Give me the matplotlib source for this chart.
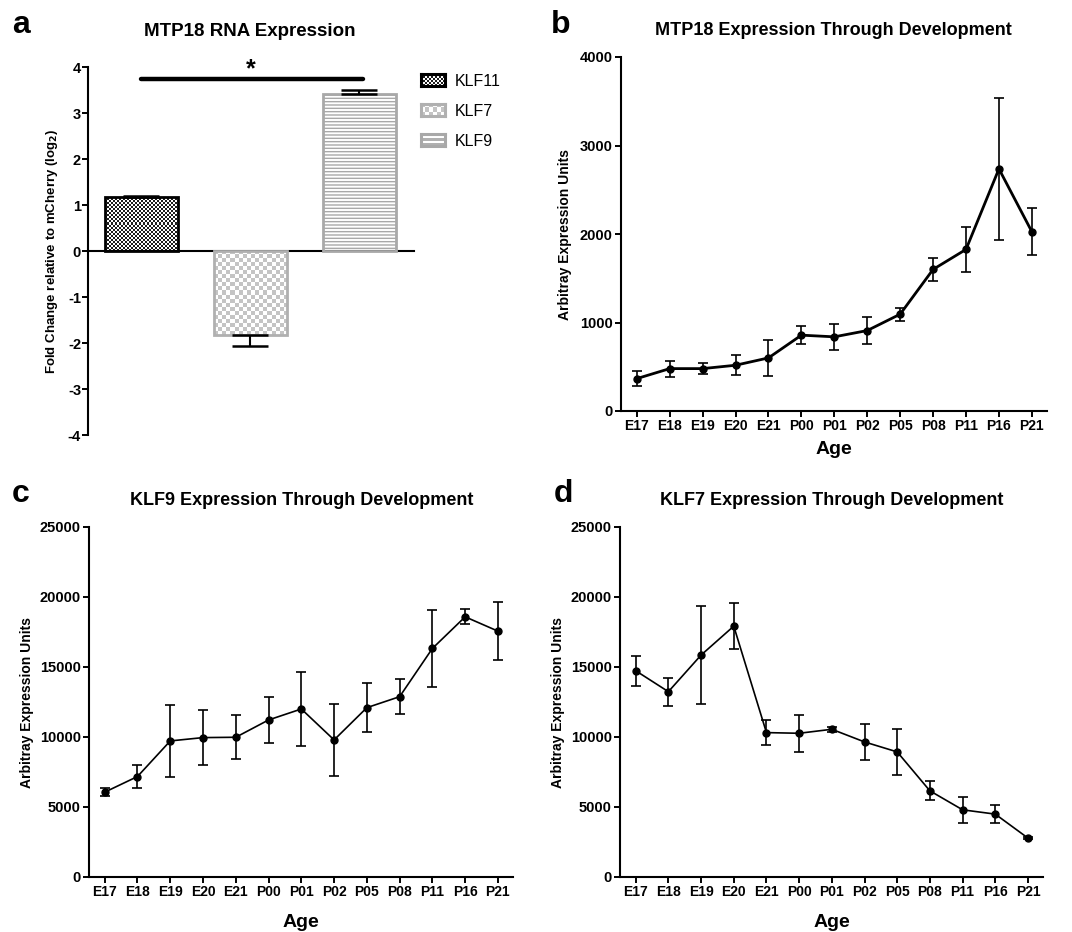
import numpy as np
import matplotlib.pyplot as plt
from matplotlib.colors import ListedColormap

plt.rcParams['font.family'] = ['Liberation Sans', 'DejaVu Sans']
plt.rcParams['font.weight'] = 'bold'
plt.rcParams['axes.labelweight'] = 'bold'
plt.rcParams['axes.unicode_minus'] = False

# panel a data
klf_names = ['KLF11', 'KLF7', 'KLF9']
fold_change = [1.18, -1.83, 3.42]
fold_err = [0.02, 0.23, 0.07]

# development time course
ages = ['E17', 'E18', 'E19', 'E20', 'E21', 'P00', 'P01', 'P02', 'P05', 'P08', 'P11', 'P16', 'P21']
mtp18_mean = [366, 479, 479, 517, 600, 857, 838, 909, 1094, 1600, 1826, 2736, 2026]
mtp18_err = [83, 90, 64, 113, 200, 100, 145, 150, 75, 128, 255, 800, 265]
klf9_mean = [6060, 7177, 9720, 9957, 9981, 11217, 12001, 9791, 12096, 12880, 16326, 18584, 17562]
klf9_err = [300, 850, 2550, 1960, 1570, 1670, 2670, 2590, 1750, 1260, 2730, 530, 2070]
klf7_mean = [14734, 13237, 15851, 17918, 10314, 10266, 10551, 9648, 8935, 6155, 4800, 4491, 2780]
klf7_err = [1060, 990, 3520, 1640, 870, 1330, 190, 1260, 1630, 680, 950, 640, 100]

W, H = 1072, 932
fig = plt.figure(figsize=(W / 100, H / 100), dpi=100)


def px_rect(x0, y0, x1, y1):
    # pixel box (top-left origin) -> figure fraction rect
    return [x0 / W, (H - y1) / H, (x1 - x0) / W, (y1 - y0) / H]


def ftext(x, y, s, **kw):
    fig.text(x / W, 1 - y / H, s, **kw)


def checker(ax, bar, cell, c1, c2):
    x0, y0 = bar.get_x(), bar.get_y()
    w, h = bar.get_width(), bar.get_height()
    p0 = ax.transData.transform((x0, y0))
    p1 = ax.transData.transform((x0 + w, y0 + h))
    nx = max(1, int(round(abs(p1[0] - p0[0]) / cell)))
    ny = max(1, int(round(abs(p1[1] - p0[1]) / cell)))
    grid = np.indices((ny, nx)).sum(axis=0) % 2
    im = ax.imshow(grid, extent=(x0, x0 + w, min(y0, y0 + h), max(y0, y0 + h)),
                   cmap=ListedColormap([c1, c2]), interpolation='nearest',
                   aspect='auto', zorder=1)
    im.set_clip_path(bar)


# ---------------- panel a
ax = fig.add_axes(px_rect(88, 67, 414, 435))
ax.set_xlim(-0.49, 2.5)
ax.set_ylim(-4, 4)
xs = np.arange(len(klf_names))
edge = ['black', '#b0b0b0', '#a8a8a8']
bars = ax.bar(xs, fold_change, width=0.67, fill=False, edgecolor=edge, linewidth=2, zorder=3)
bars[2].set_hatch('-----')
checker(ax, bars[0], 2, '#1e1e1e', 'white')
checker(ax, bars[1], 4, '#c4c4c4', 'white')
lo = [e if v < 0 else 0 for v, e in zip(fold_change, fold_err)]
hi = [e if v > 0 else 0 for v, e in zip(fold_change, fold_err)]
ax.errorbar(xs, fold_change, yerr=[lo, hi], fmt='none', ecolor='black',
            elinewidth=1.5, capsize=13, capthick=1.8, zorder=4)
ax.plot([0, 2.03], [3.73, 3.73], color='black', lw=3.2, solid_capstyle='round')
ax.text(1, 3.95, '*', ha='center', va='center', fontsize=18, fontweight='bold', clip_on=False)
ax.spines['top'].set_visible(False)
ax.spines['right'].set_visible(False)
ax.spines['bottom'].set_position(('data', 0))
ax.spines['left'].set_linewidth(1.5)
ax.spines['bottom'].set_linewidth(1.5)
ax.set_xticks([])
ax.set_yticks(range(-4, 5))
ax.tick_params(axis='y', direction='out', length=4, width=1.4, labelsize=10.5, pad=1)
ax.set_ylabel('Fold Change relative to mCherry (log$_\\mathbf{2}$)', fontsize=9.5)
ax.yaxis.set_label_coords(-0.11, 0.5)
ax.yaxis.label.set_va('center')

# legend swatches
sw_y = [80, 110, 140]
sw_grid = [np.indices((6, 12)).sum(axis=0) % 2,
           np.indices((3, 6)).sum(axis=0) % 2,
           np.array([[0], [1], [0], [1], [0]])]
sw_cols = [['#1e1e1e', 'white'], ['#c4c4c4', 'white'], ['#b0b0b0', 'white']]
for name, yc, g, cc, ec in zip(klf_names, sw_y, sw_grid, sw_cols, edge):
    sa = fig.add_axes(px_rect(421, yc - 6, 445, yc + 6))
    sa.imshow(g, cmap=ListedColormap(cc), interpolation='nearest', aspect='auto')
    sa.set_xticks([])
    sa.set_yticks([])
    for s in sa.spines.values():
        s.set_color(ec)
        s.set_linewidth(2.2)
    ftext(455, yc + 5.5, name, fontsize=11.5, fontweight='normal', va='baseline')

ftext(250, 36, 'MTP18 RNA Expression', fontsize=13.5, ha='center', va='baseline')
ftext(12, 33, 'a', fontsize=23, ha='left', va='baseline')


# ---------------- panels b, c, d
def time_panel(box, means, errs, ymax, lw, title, tpos, letter, lpos, ylab_x, age_y):
    a = fig.add_axes(px_rect(*box))
    x = np.arange(len(ages))
    a.errorbar(x, means, yerr=errs, fmt='o-', color='black', lw=lw, ms=5,
               elinewidth=1.2, capsize=3.5, capthick=1.2, clip_on=False)
    a.set_xlim(-0.48, 12.46)
    a.set_ylim(0, ymax)
    a.set_yticks(np.linspace(0, ymax, 6 if ymax > 5000 else 5))
    a.set_xticks(x)
    a.set_xticklabels(ages)
    a.spines['top'].set_visible(False)
    a.spines['right'].set_visible(False)
    a.spines['left'].set_linewidth(1.5)
    a.spines['bottom'].set_linewidth(1.5)
    a.tick_params(direction='out', length=4, width=1.4, labelsize=10.5, pad=2)
    a.tick_params(axis='x', labelsize=10)
    a.set_ylabel('Arbitray Expression Units', fontsize=10)
    a.yaxis.set_label_coords(ylab_x, 0.5)
    a.yaxis.label.set_va('center')
    a.set_xlabel('Age', fontsize=14)
    a.xaxis.set_label_coords(0.5, age_y)
    a.xaxis.label.set_va('center')
    ftext(tpos[0], tpos[1], title, fontsize=13, ha='center', va='baseline')
    ftext(lpos[0], lpos[1], letter, fontsize=23, ha='left', va='baseline')
    return a


time_panel((621, 57, 1047, 411), mtp18_mean, mtp18_err, 4000, 2.0,
           'MTP18 Expression Through Development', (833, 35), 'b', (551, 33), -0.131, -0.11)
time_panel((89, 527, 513, 877), klf9_mean, klf9_err, 25000, 1.2,
           'KLF9 Expression Through Development', (302, 505), 'c', (12, 502), -0.146, -0.129)
time_panel((620, 527, 1043, 877), klf7_mean, klf7_err, 25000, 1.2,
           'KLF7 Expression Through Development', (832, 505), 'd', (554, 502), -0.147, -0.129)

fig.savefig('out.png', dpi=100)
